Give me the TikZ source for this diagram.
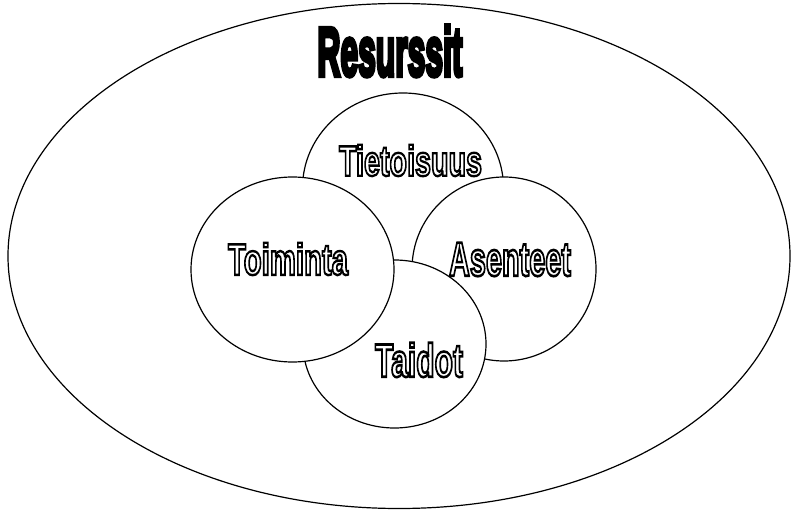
\documentclass[tikz,border=0pt]{standalone}
\usepackage{fontspec}
\setmainfont{Liberation Sans}[BoldFont={Liberation Sans Bold}]
\newfontfamily\labfont{Liberation Sans Bold}
\usepackage{graphicx}
\usetikzlibrary{shapes.geometric}
\newcommand\outlinetext[3]{\resizebox{#1pt}{#2pt}{\labfont\color{white}\special{pdf:literal direct 2 Tr 0.55 w 0 G}#3\special{pdf:literal direct 0 Tr 0.4 w}}}
\newcommand\heavytext[3]{\resizebox{#1pt}{#2pt}{\labfont\special{pdf:literal direct 2 Tr 0.7 w 0 G}#3\special{pdf:literal direct 0 Tr 0.4 w}}}
\tikzset{
  ring/.style={draw=black, line width=1.2pt, fill=white, ellipse, inner sep=0pt},
  lab/.style={inner sep=0pt, anchor=center}
}
\begin{document}
\begin{tikzpicture}[x=1pt,y=-1pt]
\useasboundingbox (0,0) rectangle (791,510);
\fill[white] (0,0) rectangle (791,510);
\node[ring, minimum width=782pt, minimum height=505pt] (outer) at (399,256) {};
\node[lab] (res) at (390,51) {\heavytext{145}{50}{Resurssit}};
\node[ring, minimum width=201pt, minimum height=190pt] (tie) at (403,188) {};
\node[ring, minimum width=184pt, minimum height=184pt] (ase) at (504,269) {};
\node[ring, minimum width=183pt, minimum height=168pt] (tai) at (394.5,344) {};
\node[ring, minimum width=203pt, minimum height=185pt] (toi) at (292.5,269.5) {};
\node[lab] (tiel) at (410.5,160.5) {\outlinetext{143}{31}{Tietoisuus}};
\node[lab] (toil) at (288,259) {\outlinetext{120}{32}{Toiminta}};
\node[lab] (asel) at (510,259.5) {\outlinetext{122}{33}{Asenteet}};
\node[lab] (tail) at (419,360) {\outlinetext{88}{34}{Taidot}};
\end{tikzpicture}
\end{document}
